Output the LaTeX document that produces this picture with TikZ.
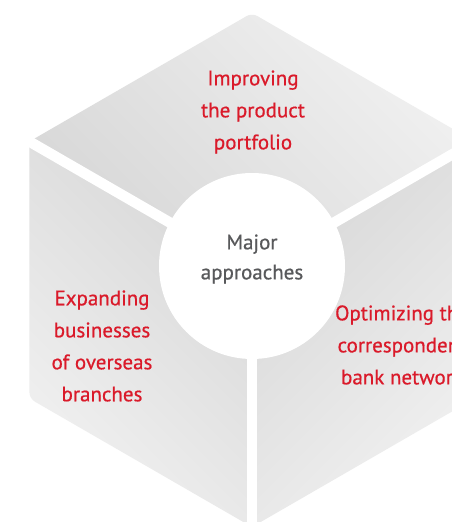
\documentclass[tikz,border=0pt]{standalone}
\usepackage{fontspec}
\setmainfont{PT Sans}
\newfontfamily\medfont{PT Sans}[FakeBold=0.6]
\usetikzlibrary{calc}
\definecolor{hexlight}{HTML}{F1F1F1}
\definecolor{hexdark}{HTML}{D7D7D7}
\definecolor{accentred}{HTML}{DA1A2A}
\definecolor{midgray}{HTML}{58595B}
\tikzset{
  facet/.style={top color=hexlight, bottom color=hexdark, rounded corners=6pt},
  gap/.style={white, line width=10.5pt},
  label/.style={text=accentred, align=center, font=\medfont\fontsize{21}{32}\selectfont},
  hub/.style={circle, fill=white, minimum size=186pt, inner sep=0pt},
  hubtext/.style={text=midgray, align=center, font=\medfont\fontsize{21}{30}\selectfont}
}
\begin{document}
\begin{tikzpicture}[x=1pt,y=1pt]
\useasboundingbox (0,0) rectangle (452,522);
\clip (0,0) rectangle (452,522);
\fill[white] (0,0) rectangle (452,522);
\coordinate (O) at (252,252);
\coordinate (T) at ($(O)+(90:257)$);
\coordinate (UL) at ($(O)+(150:257)$);
\coordinate (LL) at ($(O)+(210:257)$);
\coordinate (B) at ($(O)+(270:257)$);
\coordinate (LR) at ($(O)+(330:257)$);
\coordinate (UR) at ($(O)+(30:257)$);
% facets
\shade[facet, shading angle=-45] (O) -- (UL) -- (T) -- (UR) -- cycle;
\shade[facet, shading angle=135] (O) -- (B) -- (LL) -- (UL) -- cycle;
\shade[facet, shading angle=-135] (O) -- (UR) -- (LR) -- (B) -- cycle;
% gaps
\draw[gap] (O) -- ($(O)+(150:300)$);
\draw[gap] (O) -- ($(O)+(30:300)$);
\draw[gap] (O) -- ($(O)+(270:300)$);
% hub
\node[hub] (hub) at (252,256) {};
\node[hubtext] (hubtxt) at (252,263) {Major\\approaches};
\node[label] (top) at (253,410) {Improving\\the product\\portfolio};
\node[label] (left) at (102,176) {Expanding\\businesses\\of overseas\\branches};
\node[label] (right) at (402,177) {Optimizing the\\correspondent\\bank network};
\end{tikzpicture}
\end{document}
